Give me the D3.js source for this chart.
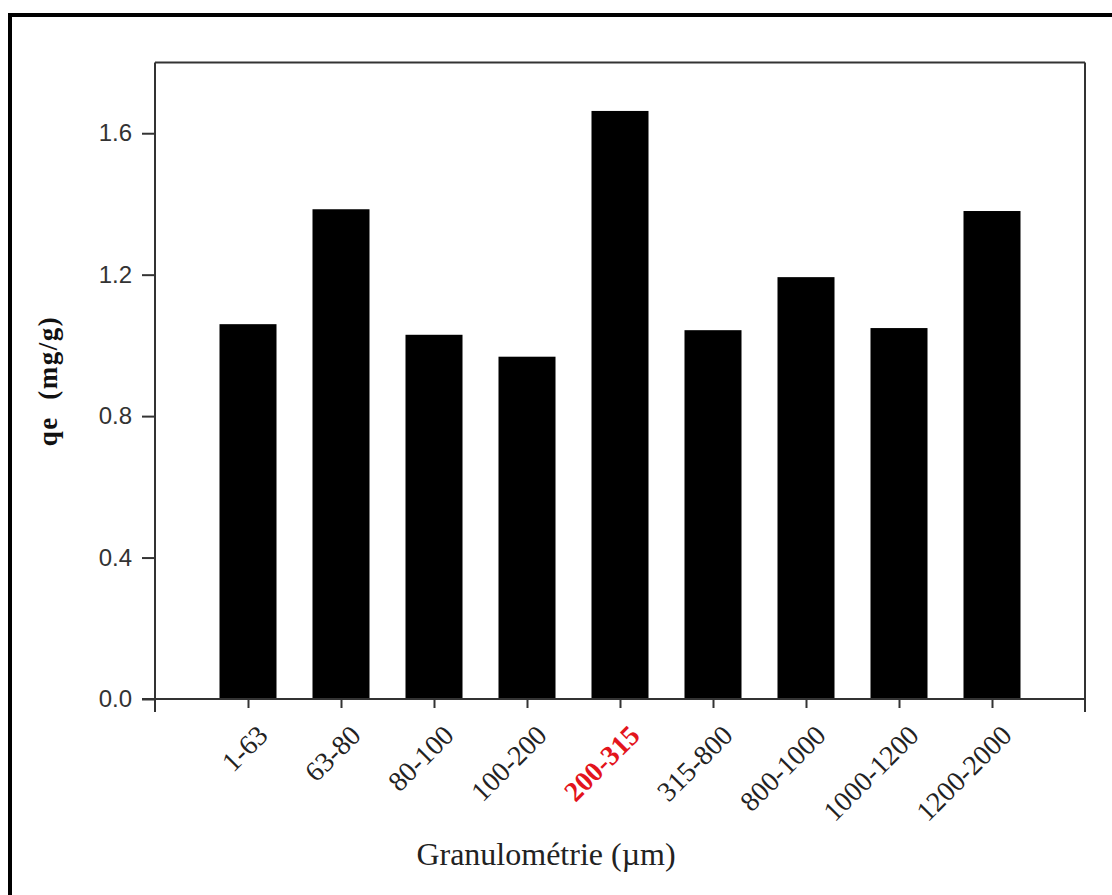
<!DOCTYPE html>
<html>
<head>
<meta charset="utf-8">
<script src="https://cdnjs.cloudflare.com/ajax/libs/d3/7.8.5/d3.min.js"></script>
<style>
  html, body { margin: 0; padding: 0; background: #fff; }
  svg { display: block; }
</style>
</head>
<body>
<svg id="chart" width="1112" height="895"></svg>
<script>
const categories = ["1-63", "63-80", "80-100", "100-200", "200-315", "315-800", "800-1000", "1000-1200", "1200-2000"];
const qeValues = [1.06, 1.385, 1.03, 0.968, 1.663, 1.043, 1.193, 1.049, 1.38];
const yTicks = [0.0, 0.4, 0.8, 1.2, 1.6];
const highlighted = ["200-315"];
const yTitle = "qe  (mg/g)";
const xTitle = "Granulométrie (µm)";

const svg = d3.select("#chart");
const W = 1112, H = 895;
const m = { left: 155, right: 1085, top: 62.5, bottom: 699 };

// outer frame (extends past right/bottom edge)
svg.append("rect").attr("x", 10).attr("y", 15).attr("width", W + 20).attr("height", H + 20)
  .attr("fill", "#fff").attr("stroke", "#000").attr("stroke-width", 4);

const x = d3.scalePoint().domain(categories).range([m.left, m.right]).padding(1);
const y = d3.scaleLinear().domain([0, 1.8]).range([m.bottom, m.top]);
const barW = x.step() * 0.613;

// bars
svg.append("g").selectAll("rect").data(categories).join("rect")
  .attr("x", (d) => x(d) - barW / 2)
  .attr("y", (d, i) => y(qeValues[i]))
  .attr("width", barW)
  .attr("height", (d, i) => y(0) - y(qeValues[i]))
  .attr("fill", "#000");

const axisColor = "#333";
// frame lines
const frame = svg.append("g").attr("stroke", axisColor).attr("stroke-width", 2).attr("fill", "none");
frame.append("line").attr("x1", m.left).attr("x2", m.right).attr("y1", m.top).attr("y2", m.top);
frame.append("line").attr("x1", m.left).attr("x2", m.left).attr("y1", m.top).attr("y2", m.bottom + 13);
frame.append("line").attr("x1", m.right).attr("x2", m.right).attr("y1", m.top).attr("y2", m.bottom + 13);
frame.append("line").attr("x1", m.left - 13).attr("x2", m.right).attr("y1", m.bottom).attr("y2", m.bottom);

// y axis
const yAxis = svg.append("g").attr("transform", `translate(${m.left},0)`)
  .call(d3.axisLeft(y).tickValues(yTicks).tickFormat(d3.format(".1f")).tickSize(13).tickPadding(10));
yAxis.select(".domain").remove();
yAxis.selectAll(".tick line").attr("stroke", axisColor).attr("stroke-width", 2);
yAxis.selectAll(".tick text").attr("fill", "#333")
  .style("font-family", "'Liberation Sans', Arial, sans-serif").style("font-size", "24px");

// x axis
const xAxis = svg.append("g").attr("transform", `translate(0,${m.bottom})`)
  .call(d3.axisBottom(x).tickSize(9).tickPadding(0));
xAxis.select(".domain").remove();
xAxis.selectAll(".tick line").attr("stroke", axisColor).attr("stroke-width", 2);
xAxis.selectAll(".tick text")
  .attr("text-anchor", "end")
  .attr("dy", 0)
  .attr("y", 0)
  .attr("transform", "translate(21,38) rotate(-45)")
  .style("font-family", "'Liberation Serif', 'Times New Roman', serif")
  .style("font-size", "28px")
  .attr("fill", (d) => highlighted.includes(d) ? "#e3141c" : "#222")
  .style("font-weight", (d) => highlighted.includes(d) ? "bold" : "normal");

// axis titles
svg.append("text")
  .attr("transform", "translate(57,381) rotate(-90)")
  .attr("text-anchor", "middle")
  .style("white-space", "pre")
  .style("font-family", "'Liberation Serif', 'Times New Roman', serif")
  .style("font-size", "27px").style("font-weight", "bold")
  .style("letter-spacing", "1.5px")
  .attr("fill", "#111")
  .text(yTitle);

svg.append("text")
  .attr("x", 546).attr("y", 865)
  .attr("text-anchor", "middle")
  .style("font-family", "'Liberation Serif', 'Times New Roman', serif")
  .style("font-size", "32px")
  .attr("fill", "#222")
  .text(xTitle);
</script>
</body>
</html>
